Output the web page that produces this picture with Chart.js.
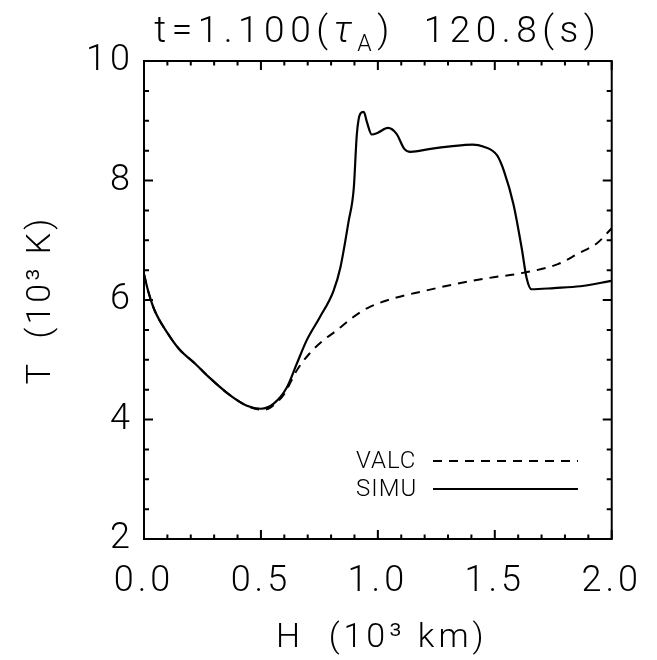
<!DOCTYPE html>
<html lang="en">
<head>
<meta charset="UTF-8">
<title>T profile</title>
<script src="https://cdn.jsdelivr.net/npm/chart.js"></script>
<style>
  body { margin: 0; background: #fff; }
  #box { width: 657px; height: 660px; }
</style>
</head>
<body>
<div id="box"><canvas id="grafico"></canvas></div>
<script>
// height (10^3 km) and temperature (10^3 K)
const hSimu = [0.00, 0.02, 0.046, 0.10, 0.15, 0.22, 0.28, 0.36, 0.44, 0.50, 0.556, 0.61, 0.653, 0.695, 0.75, 0.81, 0.84, 0.875, 0.897, 0.91, 0.925, 0.94, 0.953, 0.974, 1.00, 1.043, 1.08, 1.113, 1.14, 1.225, 1.31, 1.405, 1.45, 1.51, 1.54, 1.58, 1.615, 1.636, 1.657, 1.753, 1.866, 2.00];
const tSimu = [6.43, 6.12, 5.82, 5.45, 5.18, 4.93, 4.70, 4.43, 4.23, 4.18, 4.27, 4.53, 4.93, 5.32, 5.70, 6.15, 6.55, 7.32, 7.87, 8.77, 9.12, 9.15, 8.98, 8.77, 8.80, 8.88, 8.78, 8.53, 8.48, 8.53, 8.57, 8.60, 8.57, 8.42, 8.15, 7.60, 6.87, 6.37, 6.18, 6.20, 6.23, 6.32];
const hValc = [0.00, 0.02, 0.046, 0.10, 0.15, 0.22, 0.28, 0.36, 0.44, 0.51, 0.54, 0.60, 0.653, 0.707, 0.765, 0.82, 0.89, 0.958, 1.06, 1.197, 1.335, 1.477, 1.615, 1.77, 1.853, 1.937, 2.00];
const tValc = [6.43, 6.12, 5.82, 5.45, 5.18, 4.93, 4.70, 4.43, 4.23, 4.16, 4.20, 4.43, 4.82, 5.10, 5.32, 5.48, 5.70, 5.87, 6.02, 6.15, 6.27, 6.37, 6.45, 6.60, 6.77, 6.95, 7.20];
const xTicks = [0.0, 0.5, 1.0, 1.5, 2.0];
const yTicks = [2, 4, 6, 8, 10];
const serieNames = ['VALC', 'SIMU'];

const fonte = 'Roboto, Liberation Sans, sans-serif';

function pares(hs, ts) {
    let out = [];
    for (let i = 0; i < hs.length; i++) out.push({ x: hs[i], y: ts[i] });
    return out;
}

// box, inward ticks, legend and titles drawn on top of the scales
const moldura = {
    id: 'moldura',
    beforeDraw(chart) {
        chart.ctx.letterSpacing = '4px';
    },
    afterDraw(chart) {
        const ctx = chart.ctx;
        const a = chart.chartArea;
        const sx = chart.scales.x, sy = chart.scales.y;
        ctx.save();
        ctx.strokeStyle = '#000';
        ctx.lineWidth = 2;
        ctx.strokeRect(a.left, a.top, a.right - a.left, a.bottom - a.top);

        ctx.beginPath();
        for (let v = 0; v <= 20; v++) {
            const px = sx.getPixelForValue(v / 10);
            const len = (v % 5 === 0) ? 9 : 4.5;
            ctx.moveTo(px, a.bottom); ctx.lineTo(px, a.bottom - len);
            ctx.moveTo(px, a.top); ctx.lineTo(px, a.top + len);
        }
        for (let v = 4; v <= 20; v++) {
            const py = sy.getPixelForValue(v / 2);
            const len = (v % 4 === 0) ? 9 : 5;
            ctx.moveTo(a.left, py); ctx.lineTo(a.left + len, py);
            ctx.moveTo(a.right, py); ctx.lineTo(a.right - len, py);
        }
        ctx.stroke();

        // legend
        ctx.letterSpacing = '1px';
        ctx.font = '300 24px ' + fonte;
        ctx.fillStyle = '#000';
        ctx.textBaseline = 'middle';
        ctx.textAlign = 'left';
        const ds = chart.data.datasets;
        for (let i = 0; i < ds.length; i++) {
            const y = 461 + i * 28;
            ctx.fillText(ds[i].label, 356, y + 1);
            ctx.setLineDash(ds[i].borderDash || []);
            ctx.lineWidth = 2;
            ctx.beginPath();
            ctx.moveTo(433, y); ctx.lineTo(578, y);
            ctx.stroke();
        }
        ctx.setLineDash([]);

        // title
        ctx.letterSpacing = '5.5px';
        ctx.textBaseline = 'alphabetic';
        const partes = [
            { t: 't=1.100(', f: '300 37px ' + fonte, dy: 0 },
            { t: '\u03C4', f: 'italic 300 37px ' + fonte, dy: 0 },
            { t: 'A', f: '300 23px ' + fonte, dy: 9 },
            { t: ')  120.8(s)', f: '300 37px ' + fonte, dy: 0 }
        ];
        let total = 0;
        partes.forEach(p => { ctx.font = p.f; p.w = ctx.measureText(p.t).width; total += p.w; });
        let x = (a.left + a.right) / 2 - total / 2;
        partes.forEach(p => { ctx.font = p.f; ctx.fillText(p.t, x, 42 + p.dy); x += p.w; });

        // axis titles
        ctx.letterSpacing = '4px';
        ctx.font = '300 34px ' + fonte;
        ctx.textAlign = 'center';
        ctx.fillText('H  (10\u00B3 km)', (a.left + a.right) / 2 + 4, 647);

        ctx.letterSpacing = '3px';
        ctx.translate(50, 300);
        ctx.rotate(-Math.PI / 2);
        ctx.fillText('T  (10\u00B3 K)', 0, 0);
        ctx.restore();
        ctx.letterSpacing = '0px';
    }
};

const config = {
    type: 'line',
    data: {
        datasets: [
            {
                label: serieNames[0],
                data: pares(hValc, tValc),
                borderColor: '#000',
                borderWidth: 2,
                borderDash: [9, 7],
                pointRadius: 0,
                cubicInterpolationMode: 'monotone'
            },
            {
                label: serieNames[1],
                data: pares(hSimu, tSimu),
                borderColor: '#000',
                borderWidth: 2.2,
                pointRadius: 0,
                cubicInterpolationMode: 'monotone'
            }
        ]
    },
    options: {
        responsive: true,
        maintainAspectRatio: false,
        animation: false,
        layout: { padding: { top: 61, right: 35, left: 0, bottom: 0 } },
        plugins: { legend: { display: false }, tooltip: { enabled: false } },
        scales: {
            x: {
                type: 'linear',
                min: 0, max: 2,
                grid: { display: false, drawTicks: false },
                border: { display: false },
                afterFit(s) { s.height = 121; },
                afterBuildTicks(s) { s.ticks = xTicks.map(v => ({ value: v })); },
                ticks: {
                    padding: 21,
                    color: '#000',
                    font: { family: fonte, size: 36, weight: 300 },
                    maxRotation: 0,
                    callback: v => v.toFixed(1)
                }
            },
            y: {
                type: 'linear',
                min: 2, max: 10,
                grid: { display: false, drawTicks: false },
                border: { display: false },
                afterFit(s) { s.width = 144; },
                afterBuildTicks(s) { s.ticks = yTicks.map(v => ({ value: v })); },
                ticks: {
                    padding: 10,
                    color: '#000',
                    font: { family: fonte, size: 36, weight: 300 }
                }
            }
        }
    },
    plugins: [moldura]
};

let grafico = new Chart(document.getElementById('grafico'), config);
</script>
</body>
</html>
